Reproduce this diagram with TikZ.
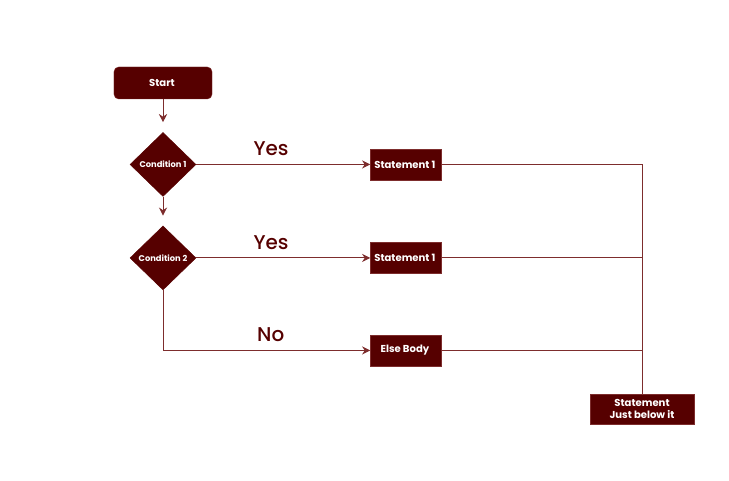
\documentclass[tikz,border=0pt]{standalone}
\usepackage{fontspec}
\setmainfont{Poppins}
\newfontfamily\answerfont{Poppins Medium}
\usetikzlibrary{positioning}
\usetikzlibrary{arrows.meta}
\usetikzlibrary{shapes.geometric}
\definecolor{maroon(dark)}{RGB}{86,0,0}
\definecolor{maroon(line)}{RGB}{125,45,45}
\tikzset {
        boxnode/.style={align=center,inner sep=0pt, rectangle, draw=maroon(line), fill=maroon(dark), text=white, font=\fontsize{8.6}{11}\selectfont\bfseries, minimum width=2.13cm, minimum height=0.93cm},
        decnode/.style={diamond, aspect=1, inner sep=0pt, draw=maroon(dark), fill=maroon(dark), text=white, font=\fontsize{7.1}{8}\selectfont\bfseries, minimum width=1.98cm, minimum height=1.92cm},
        answer/.style={text=maroon(dark), font=\fontsize{17}{20}\selectfont\answerfont, inner sep=0pt},
        flow/.style={draw=maroon(line), line width=0.8pt},
        default/.style={}
}

\begin{document}
\begin{tikzpicture}[x=0.03cm, y=-0.03cm, >={Stealth[length=7pt,width=7pt]}]
            \useasboundingbox (0,0) rectangle (729,481);
            \node[boxnode, rounded corners=4pt, minimum width=2.94cm, minimum height=0.96cm] (Start) at (163,83) {
                Start
            };
            \node[decnode, below=0.99cm of Start] (CondOne) {
                Condition 1
            };
            \node[decnode, below=0.87cm of CondOne] (CondTwo) {
                Condition 2
            };
            \node[boxnode, right=5.22cm of CondOne] (StmtOne) {
                Statement 1
            };
            \node[boxnode, right=5.22cm of CondTwo] (StmtTwo) {
                Statement 1
            };
            \node[boxnode, below=1.83cm of StmtTwo] (ElseBody) {
                Else Body
            };
            \node[boxnode, minimum width=3.12cm, minimum height=0.9cm] (After) at (642,409) {
                Statement\\Just below it
            };

            \coordinate (Bend) at (CondTwo |- ElseBody);
            \coordinate (JoinOne) at (After.north |- StmtOne);
            \coordinate (JoinTwo) at (After.north |- StmtTwo);
            \coordinate (JoinThree) at (After.north |- ElseBody);

            \draw[flow, ->, shorten >=0.3cm] (Start) -- (CondOne);
            \draw[flow, ->, shorten >=0.3cm] (CondOne) -- (CondTwo);
            \draw[flow, ->] (CondOne) -- node[answer, pos=0.43, above=7pt] (YesOne) {Yes} (StmtOne);
            \draw[flow, ->] (CondTwo) -- node[answer, pos=0.43, above=7pt] (YesTwo) {Yes} (StmtTwo);
            \draw[flow, ->] (CondTwo) -- (Bend) -- node[answer, pos=0.52, above=7pt] (NoOne) {No} (ElseBody);

            \draw[flow] (StmtOne) -- (JoinOne) -- (After);
            \draw[flow] (StmtTwo) -- (JoinTwo);
            \draw[flow] (ElseBody) -- (JoinThree);
        \end{tikzpicture}
\end{document}
